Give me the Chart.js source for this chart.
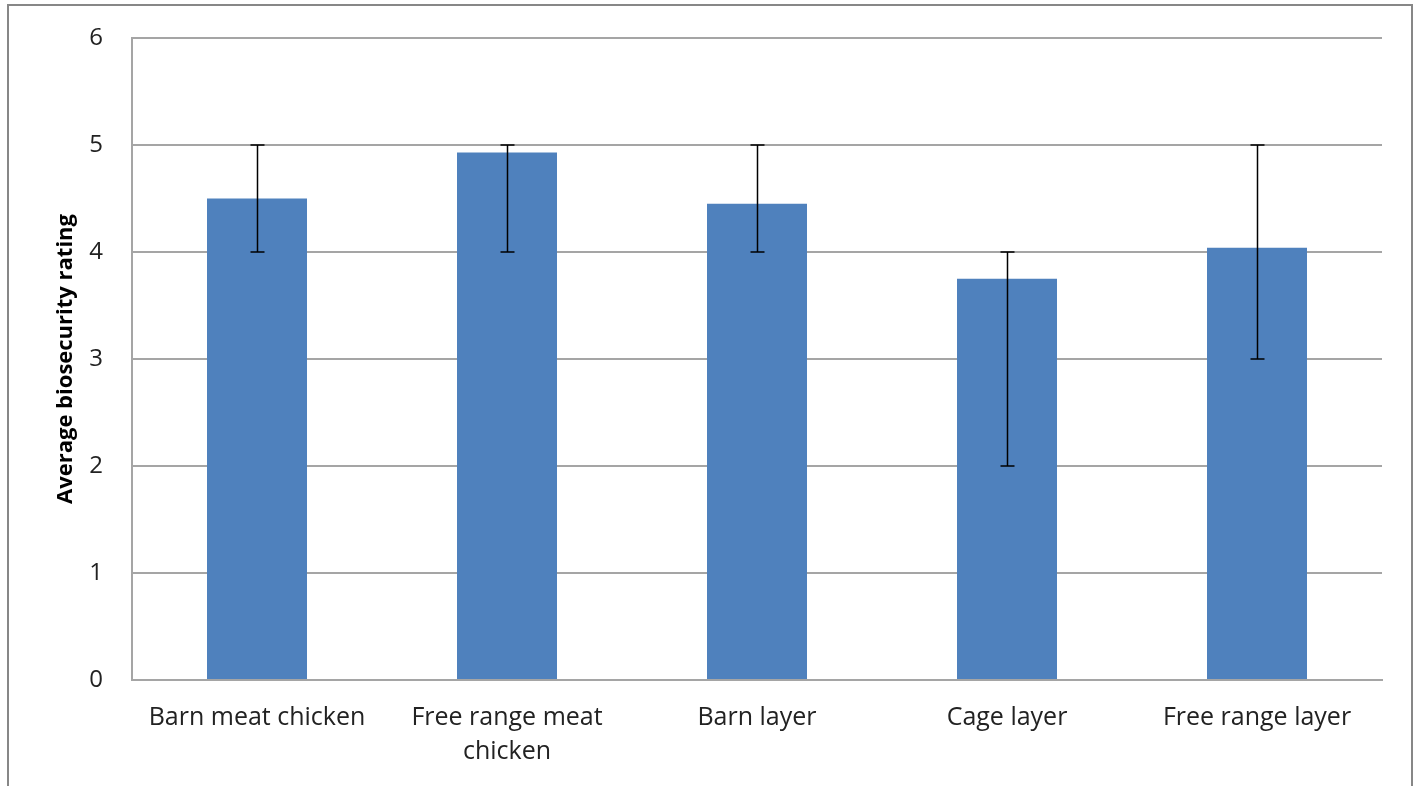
<!DOCTYPE html>
<html>
<head>
<meta charset="utf-8">
<script src="https://cdn.jsdelivr.net/npm/chart.js@4.4.1/dist/chart.umd.min.js"></script>
<style>
  html, body { margin: 0; padding: 0; background: #fff; }
  canvas { display: block; }
</style>
</head>
<body>
<canvas id="chart" width="1418" height="786"></canvas>
<script>
// data
const categories = ['Barn meat chicken', ['Free range meat', 'chicken'], 'Barn layer', 'Cage layer', 'Free range layer'];
const ratings = [4.5, 4.93, 4.45, 3.75, 4.04];
const errLow = [4, 4, 4, 2, 3];
const errHigh = [5, 5, 5, 4, 5];
const yTicks = [0, 1, 2, 3, 4, 5, 6];

const fontFamily = '"Open Sans", Lato, sans-serif';
const gridColor = 'rgb(165,165,165)';

// outer frame like the excel chart area border
const framePlugin = {
  id: 'frame',
  beforeDraw(chart) {
    const ctx = chart.ctx;
    ctx.save();
    ctx.strokeStyle = 'rgb(135,135,135)';
    ctx.lineWidth = 2;
    ctx.strokeRect(8, 5, 1404, 820);
    ctx.restore();
  }
};

// min / max whiskers
const errorBarPlugin = {
  id: 'errorBars',
  afterDatasetsDraw(chart) {
    const ctx = chart.ctx;
    const x = chart.scales.x;
    const y = chart.scales.y;
    ctx.save();
    ctx.strokeStyle = '#000';
    ctx.lineWidth = 1.5;
    for (let i = 0; i < ratings.length; i++) {
      const cx = Math.round(x.getPixelForValue(i)) + 0.5;
      const top = y.getPixelForValue(errHigh[i]);
      const bot = y.getPixelForValue(errLow[i]);
      ctx.beginPath();
      ctx.moveTo(cx, top);
      ctx.lineTo(cx, bot);
      ctx.moveTo(cx - 7, top);
      ctx.lineTo(cx + 7, top);
      ctx.moveTo(cx - 7, bot);
      ctx.lineTo(cx + 7, bot);
      ctx.stroke();
    }
    ctx.restore();
  }
};

const ctx = document.getElementById('chart').getContext('2d');
const chart = new Chart(ctx, {
  type: 'bar',
  data: {
    labels: categories,
    datasets: [{
      data: ratings,
      backgroundColor: '#4f81bd',
      borderWidth: 0,
      categoryPercentage: 1,
      barPercentage: 0.4
    }]
  },
  options: {
    responsive: false,
    animation: false,
    layout: { padding: { top: 38, right: 36, left: 0, bottom: 0 } },
    plugins: {
      legend: { display: false },
      tooltip: { enabled: false }
    },
    scales: {
      x: {
        grid: { display: false, drawTicks: false },
        border: { color: gridColor, width: 2 },
        ticks: {
          color: '#222',
          padding: 21,
          maxRotation: 0,
          autoSkip: false,
          font: { family: fontFamily, size: 25, lineHeight: 1.36 }
        },
        afterFit(scale) { scale.height = 106; }
      },
      y: {
        min: 0,
        max: 6,
        afterBuildTicks(scale) { scale.ticks = yTicks.map(v => ({ value: v })); },
        grid: { color: gridColor, lineWidth: 2, drawTicks: false },
        border: { color: gridColor, width: 2 },
        ticks: {
          color: '#222',
          padding: 29,
          font: { family: fontFamily, size: 24 }
        },
        title: {
          display: true,
          text: 'Average biosecurity rating',
          color: '#000',
          padding: { top: 53, bottom: 0 },
          font: { family: fontFamily, size: 22, weight: 'bold', lineHeight: 1.2 }
        },
        afterFit(scale) {
          scale.width = 132;
          // tick padding would otherwise push the plot top down
          scale.paddingTop = 0;
          scale.paddingBottom = 0;
        }
      }
    }
  },
  plugins: [framePlugin, errorBarPlugin]
});
</script>
</body>
</html>
